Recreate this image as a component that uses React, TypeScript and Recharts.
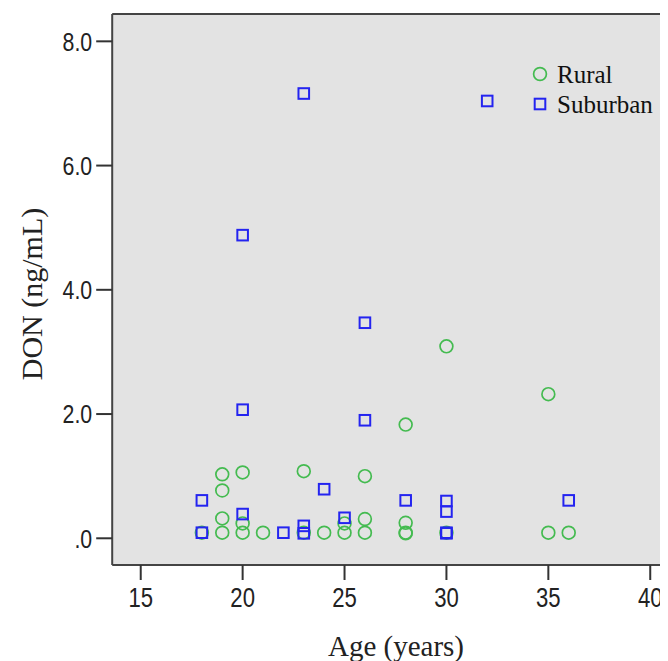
import React from "react";
import {
  ScatterChart,
  Scatter,
  XAxis,
  YAxis,
  CartesianGrid,
  ReferenceLine,
  Legend,
  Label,
} from "recharts";

// ---- Data ----
const ruralAge = [30, 35, 28, 26, 26, 26, 25, 25, 28, 28, 28, 30, 35, 36, 19, 20, 19, 19, 19, 20, 20, 18, 21, 23, 23, 24];
const ruralDon = [3.09, 2.32, 1.83, 1.0, 0.31, 0.09, 0.09, 0.24, 0.25, 0.09, 0.08, 0.09, 0.09, 0.09, 1.03, 1.06, 0.77, 0.32, 0.09, 0.09, 0.24, 0.09, 0.09, 1.08, 0.09, 0.09];

const suburbanAge = [23, 32, 20, 26, 20, 26, 18, 20, 24, 18, 22, 23, 23, 25, 28, 30, 30, 30, 30, 36];
const suburbanDon = [7.16, 7.04, 4.88, 3.47, 2.07, 1.9, 0.61, 0.39, 0.79, 0.09, 0.09, 0.2, 0.08, 0.33, 0.61, 0.6, 0.43, 0.09, 0.08, 0.61];

const xTicks = [15, 20, 25, 30, 35, 40];
const yTicks = [0, 2, 4, 6, 8];
const seriesNames = ["Rural", "Suburban"];

const X_DOMAIN: [number, number] = [13.6, 42];
const Y_DOMAIN: [number, number] = [-0.43, 8.44];

const rural = ruralAge.map((age, i) => ({ age, don: ruralDon[i] }));
const suburban = suburbanAge.map((age, i) => ({ age, don: suburbanDon[i] }));

const GREEN = "#44bb50";
const BLUE = "#2424f0";
const AXIS = "#444444";
const TICK_FONT = "'Liberation Sans', Arial, sans-serif";
const TITLE_FONT = "'Liberation Serif', 'Times New Roman', serif";

const RuralShape = (p: any) => (
  <circle cx={p.cx} cy={p.cy} r={6.4} fill="none" stroke={GREEN} strokeWidth={1.7} />
);
const SuburbanShape = (p: any) => (
  <rect x={p.cx - 5.3} y={p.cy - 5.3} width={10.6} height={10.6} fill="none" stroke={BLUE} strokeWidth={2} />
);

const formatY = (v: number) => {
  const s = v.toFixed(1);
  return s.startsWith("0") ? s.slice(1) : s;
};

const XTick = (props: any) => {
  const { x, y, payload } = props;
  return (
    <g transform={`translate(${x},${y})`}>
      <text
        transform="scale(0.82,1)"
        textAnchor="middle"
        dy="0.71em"
        fontFamily={TICK_FONT}
        fontSize={27}
        fill="#222"
      >
        {payload.value}
      </text>
    </g>
  );
};

const YTick = (props: any) => {
  const { x, y, payload } = props;
  return (
    <g transform={`translate(${x},${y})`}>
      <text
        transform="scale(0.82,1)"
        textAnchor="end"
        dy="0.355em"
        fontFamily={TICK_FONT}
        fontSize={26}
        fill="#222"
      >
        {formatY(payload.value)}
      </text>
    </g>
  );
};

const LegendContent = () => (
  <div style={{ fontFamily: TITLE_FONT, fontSize: 25, color: "#111" }}>
    {seriesNames.map((name, i) => (
      <div key={name} style={{ display: "flex", alignItems: "center", height: 30 }}>
        <svg width={16} height={16} style={{ marginRight: 9 }}>
          {i === 0 ? (
            <circle cx={8} cy={8} r={6.4} fill="none" stroke={GREEN} strokeWidth={1.7} />
          ) : (
            <rect x={2.7} y={2.7} width={10.6} height={10.6} fill="none" stroke={BLUE} strokeWidth={2} />
          )}
        </svg>
        <span style={{ lineHeight: "30px", marginTop: 2 }}>{name}</span>
      </div>
    ))}
  </div>
);

const YTitle = () => (
  <text
    x={34}
    y={286}
    transform="rotate(-90 34 286)"
    textAnchor="middle"
    fontFamily={TITLE_FONT}
    fontSize={30}
    fill="#222"
  >
    DON (ng/mL)
  </text>
);

const XTitle = () => (
  <text x={388} y={648} textAnchor="middle" fontFamily={TITLE_FONT} fontSize={29} fill="#222">
    Age (years)
  </text>
);

export default function App() {
  return (
    <div style={{ width: 660, height: 653, overflow: "hidden" }}>
      <ScatterChart
        width={700}
        height={653}
        margin={{ top: 6, right: 17, bottom: 0, left: 0 }}
      >
        <CartesianGrid horizontal={false} vertical={false} fill="#e3e3e3" />
        <XAxis
          type="number"
          dataKey="age"
          domain={X_DOMAIN}
          allowDataOverflow
          ticks={xTicks}
          height={96}
          tickSize={15}
          tickMargin={8}
          axisLine={{ stroke: AXIS, strokeWidth: 2 }}
          tickLine={{ stroke: "#333", strokeWidth: 2 }}
          tick={XTick}
        >
          <Label content={XTitle} />
        </XAxis>
        <YAxis
          type="number"
          dataKey="don"
          domain={Y_DOMAIN}
          allowDataOverflow
          ticks={yTicks}
          width={104.2}
          tickSize={16}
          tickMargin={4}
          axisLine={{ stroke: AXIS, strokeWidth: 2 }}
          tickLine={{ stroke: "#333", strokeWidth: 2 }}
          tick={YTick}
        >
          <Label content={YTitle} />
        </YAxis>
        <ReferenceLine y={Y_DOMAIN[1]} stroke={AXIS} strokeWidth={2} />
        <Scatter name="Rural" data={rural} shape={RuralShape} isAnimationActive={false} />
        <Scatter name="Suburban" data={suburban} shape={SuburbanShape} isAnimationActive={false} />
        <Legend
          layout="horizontal"
          verticalAlign="middle"
          align="center"
          content={LegendContent}
          wrapperStyle={{ top: 51, left: 524, width: "auto", right: "auto", bottom: "auto" }}
        />
      </ScatterChart>
    </div>
  );
}
